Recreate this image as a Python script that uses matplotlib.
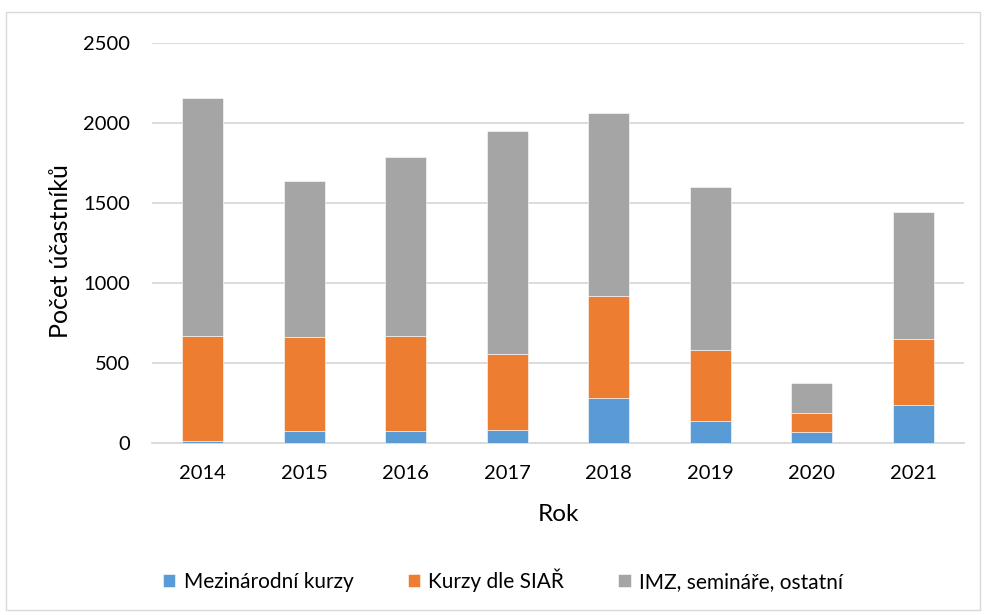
import matplotlib.pyplot as plt
from matplotlib.patches import Rectangle
import numpy as np

plt.rcParams['font.family'] = ['Lato', 'DejaVu Sans']

# data
years = ['2014', '2015', '2016', '2017', '2018', '2019', '2020', '2021']
mezinarodni = [10, 75, 70, 80, 278, 136, 65, 233]
kurzy_siar = [655, 584, 595, 472, 637, 441, 121, 413]
imz_ostatni = [1493, 981, 1120, 1400, 1145, 1021, 187, 798]
labels = ['Mezinárodní kurzy', 'Kurzy dle SIAŘ', 'IMZ, semináře, ostatní']
colors = ['#5B9BD5', '#ED7D31', '#A5A5A5']

fig = plt.figure(figsize=(9.84, 6.15), dpi=100)
ax = fig.add_axes([0.1545, 0.2802, 0.8252, 0.6498])

# chart area border
fig.patches.append(Rectangle((6/984, 1-610/615), 974/984, 598/615, transform=fig.transFigure,
                             fill=False, edgecolor='#d9d9d9', linewidth=1))

x = np.arange(len(years))
bottom = np.zeros(len(years))
for vals, lab, col in zip([mezinarodni, kurzy_siar, imz_ostatni], labels, colors):
    ax.bar(x, vals, 0.4, bottom=bottom, color=col, label=lab, edgecolor='white', linewidth=0.4, zorder=3)
    bottom += np.array(vals)

ax.set_xlim(-0.5, len(years) - 0.5)
ax.set_ylim(0, 2500)
ax.set_yticks(range(0, 2501, 500))
ax.set_xticks(x)
ax.set_xticklabels(years)
ax.grid(axis='y', color='#d9d9d9', linewidth=1.3, zorder=0)
for s in ['top', 'right', 'left']:
    ax.spines[s].set_visible(False)
ax.spines['bottom'].set_color('#d9d9d9')
ax.spines['bottom'].set_linewidth(1.3)
ax.tick_params(length=0, labelsize=14.5, colors='#000000')
ax.tick_params(axis='y', pad=16)
ax.tick_params(axis='x', pad=16)

ax.set_ylabel('Počet účastníků', fontsize=18, labelpad=14)
ax.yaxis.set_label_coords(-0.098, 0.48)
ax.set_xlabel('Rok', fontsize=17.5, labelpad=16)

fig.legend(loc='center', bbox_to_anchor=(503/984, 1-580/615), ncol=3, frameon=False,
           fontsize=15, handlelength=0.6, handleheight=0.6, columnspacing=2.6, handletextpad=0.4)

fig.savefig('out.png', dpi=100)
